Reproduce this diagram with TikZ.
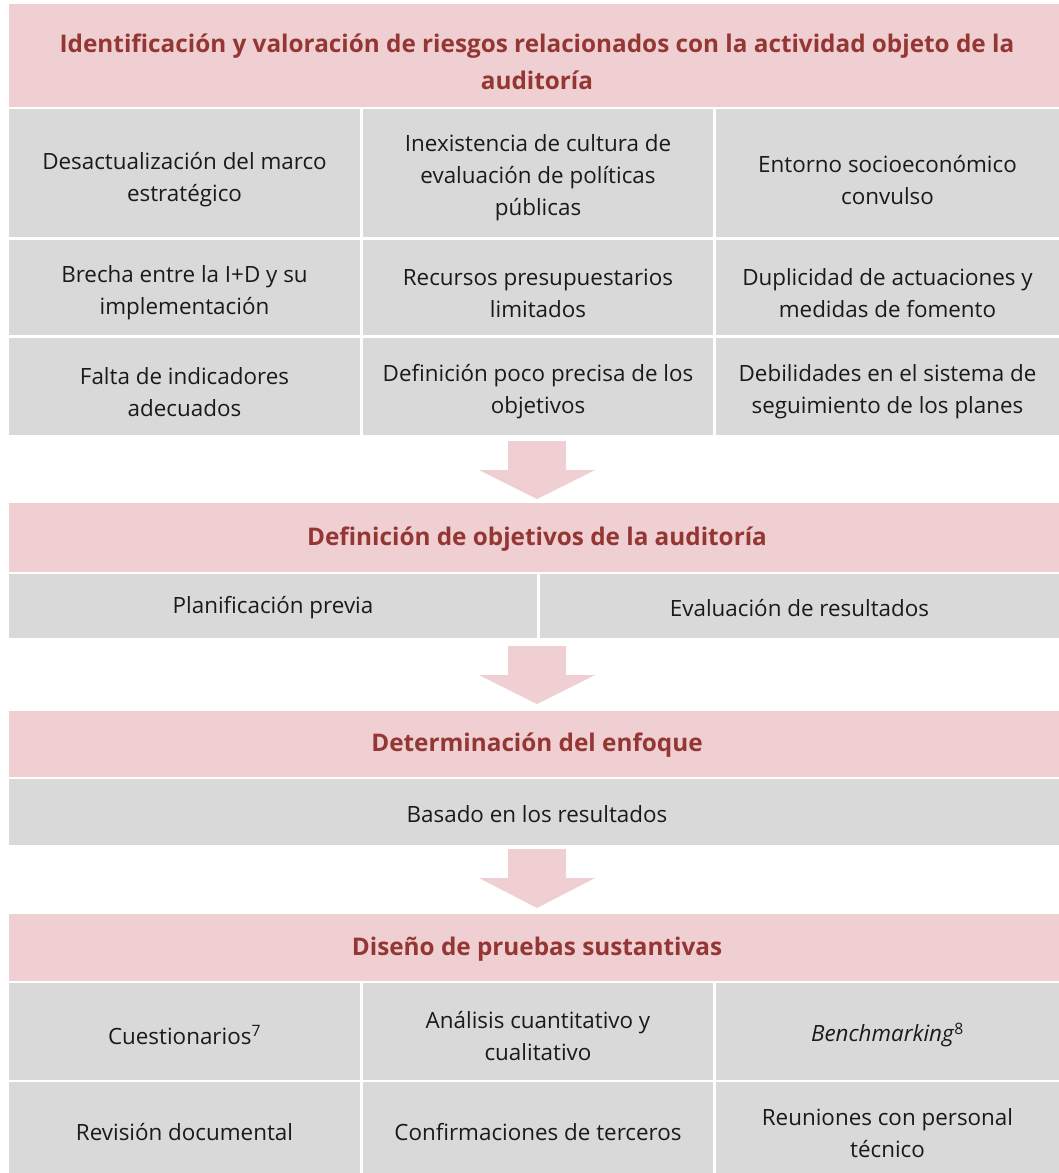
\documentclass[tikz,border=0pt]{standalone}
\usepackage{fontspec}
\setmainfont{Open Sans}
\definecolor{headpink}{HTML}{EFCFD1}
\definecolor{cellgray}{HTML}{D9D9D9}
\definecolor{headred}{HTML}{943634}
\definecolor{bodyblack}{HTML}{1A1A1A}
\tikzset{
  headtext/.style={text=headred, font=\fontsize{24.3}{37}\selectfont\bfseries, align=center, inner sep=0pt},
  celltext/.style={text=bodyblack, font=\fontsize{22.4}{32}\selectfont, align=center, inner sep=0pt},
  blockarrow/.style={fill=headpink}
}
\begin{document}
\begin{tikzpicture}[x=1pt, y=-1pt]
	\useasboundingbox (0,0) rectangle (1059,1173);
	
	% header 1 and risk grid
	\fill[headpink] (9,4) rectangle (1059,107);
	\node[headtext] (h1) at (537,62) {Identificación y valoración de riesgos relacionados con la actividad objeto de la\\auditoría};
	
	\fill[cellgray] (9,109) rectangle (360,237);
	\fill[cellgray] (363,109) rectangle (713,237);
	\fill[cellgray] (716,109) rectangle (1059,237);
	\fill[cellgray] (9,240) rectangle (360,335);
	\fill[cellgray] (363,240) rectangle (713,335);
	\fill[cellgray] (716,240) rectangle (1059,335);
	\fill[cellgray] (9,338) rectangle (360,435);
	\fill[cellgray] (363,338) rectangle (713,435);
	\fill[cellgray] (716,338) rectangle (1059,435);
	
	\node[celltext] (r11) at (184.5,180) {Desactualización del marco\\estratégico};
	\node[celltext] (r12) at (538,178) {Inexistencia de cultura de\\evaluación de políticas\\públicas};
	\node[celltext] (r13) at (887.5,180) {Entorno socioeconómico\\convulso};
	\node[celltext] (r21) at (184.5,293) {Brecha entre la I+D y su\\implementación};
	\node[celltext] (r22) at (538,293) {Recursos presupuestarios\\limitados};
	\node[celltext] (r23) at (887.5,293) {Duplicidad de actuaciones y\\medidas de fomento};
	\node[celltext] (r31) at (184.5,392) {Falta de indicadores\\adecuados};
	\node[celltext] (r32) at (538,392) {Definición poco precisa de los\\objetivos};
	\node[celltext] (r33) at (887.5,392) {Debilidades en el sistema de\\seguimiento de los planes};
	
	\fill[blockarrow] (508,441) -- (566,441) -- (566,470) -- (595,470) -- (537,499) -- (479,470) -- (508,470) -- cycle;
	
	% header 2
	\fill[headpink] (9,503) rectangle (1059,572);
	\node[headtext] (h2) at (537,539) {Definición de objetivos de la auditoría};
	\fill[cellgray] (9,574) rectangle (537,638);
	\fill[cellgray] (540,574) rectangle (1059,638);
	\node[celltext] (p1) at (273,608) {Planificación previa};
	\node[celltext] (p2) at (799.5,608) {Evaluación de resultados};
	
	\fill[blockarrow] (508,646) -- (566,646) -- (566,675) -- (595,675) -- (537,704) -- (479,675) -- (508,675) -- cycle;
	
	% header 3
	\fill[headpink] (9,711) rectangle (1059,777);
	\node[headtext] (h3) at (537,745) {Determinación del enfoque};
	\fill[cellgray] (9,779) rectangle (1059,845);
	\node[celltext] (e1) at (537,814) {Basado en los resultados};
	
	\fill[blockarrow] (508,849) -- (566,849) -- (566,878) -- (595,878) -- (537,908) -- (479,878) -- (508,878) -- cycle;
	
	% header 4 and test grid
	\fill[headpink] (9,914) rectangle (1059,981);
	\node[headtext] (h4) at (537,949) {Diseño de pruebas sustantivas};
	
	\fill[cellgray] (9,983) rectangle (360,1080);
	\fill[cellgray] (363,983) rectangle (713,1080);
	\fill[cellgray] (716,983) rectangle (1059,1080);
	\fill[cellgray] (9,1082) rectangle (360,1173);
	\fill[cellgray] (363,1082) rectangle (713,1173);
	\fill[cellgray] (716,1082) rectangle (1059,1173);
	
	\node[celltext] (t11) at (184.5,1035) {Cuestionarios\textsuperscript{7}};
	\node[celltext] (t12) at (538,1036) {Análisis cuantitativo y\\cualitativo};
	\node[celltext] (t13) at (887.5,1035) {\textit{Benchmarking}\textsuperscript{8}};
	\node[celltext] (t21) at (184.5,1132) {Revisión documental};
	\node[celltext] (t22) at (538,1132) {Confirmaciones de terceros};
	\node[celltext] (t23) at (887.5,1133) {Reuniones con personal\\técnico};
\end{tikzpicture}
\end{document}
